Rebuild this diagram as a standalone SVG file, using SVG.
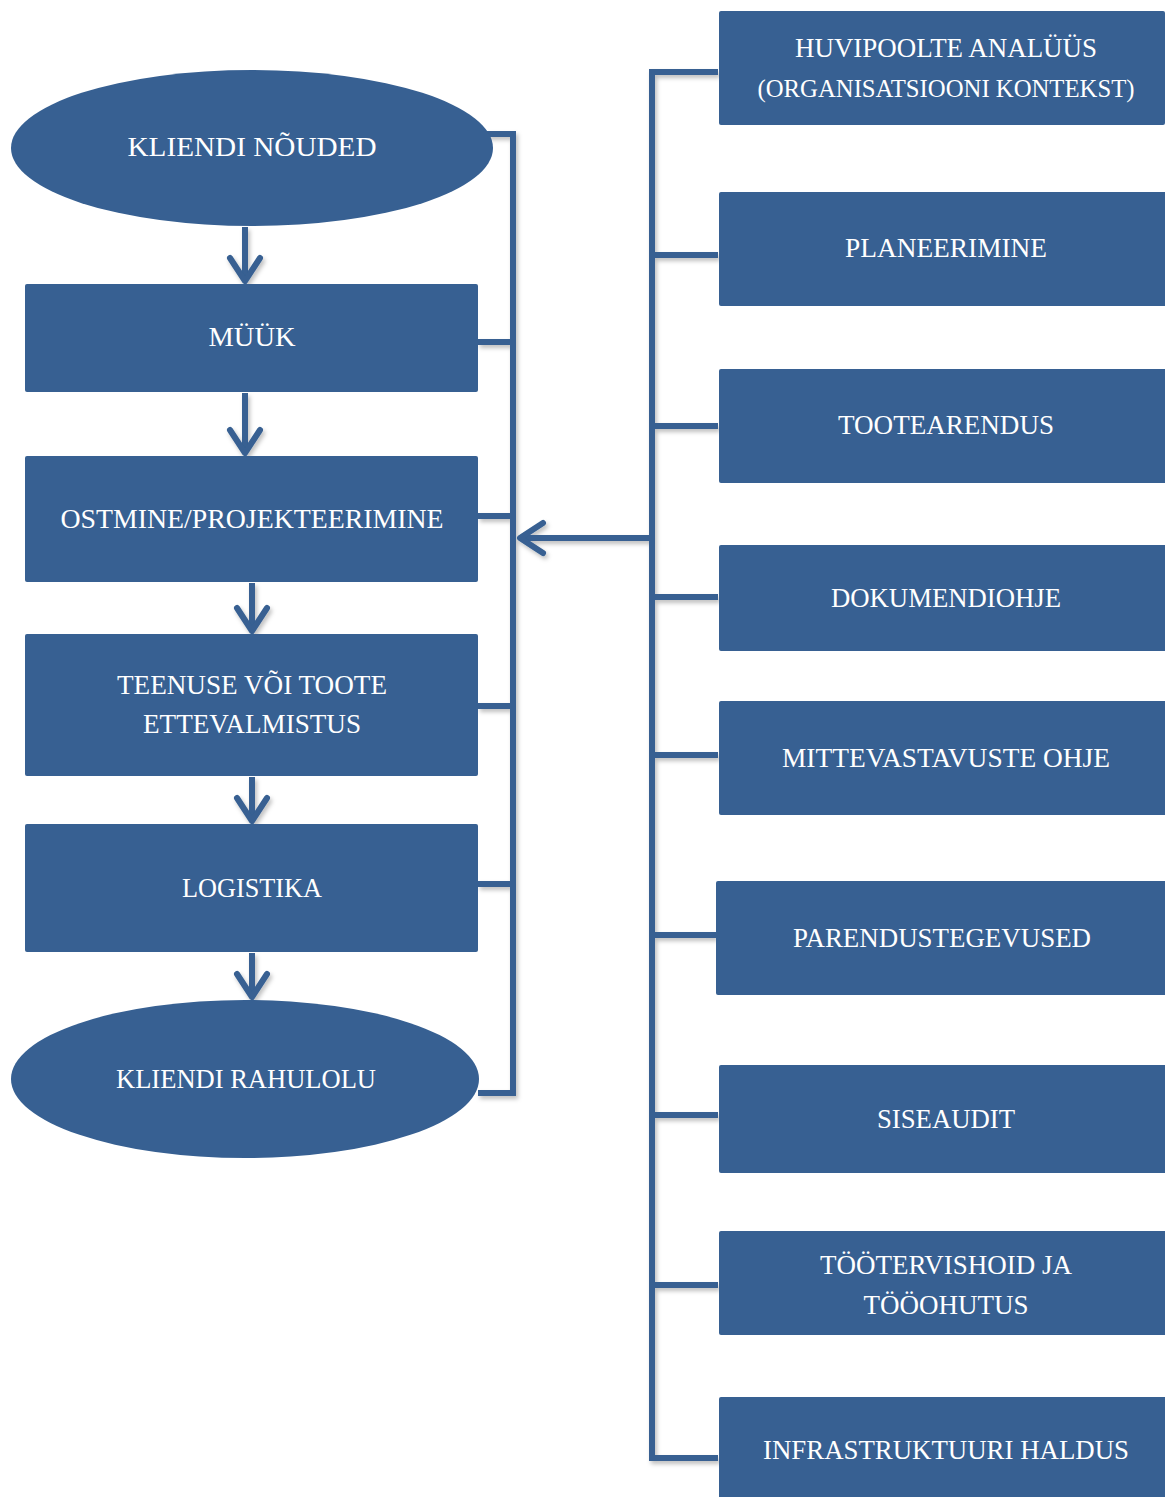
<svg xmlns="http://www.w3.org/2000/svg" width="1165" height="1497" viewBox="0 0 1165 1497">
<style>
.node{fill:#376092;}
.lbl{font-family:"Liberation Serif","Times New Roman",serif;font-size:28px;fill:#ffffff;text-anchor:middle;}
.con{fill:none;stroke:#376092;stroke-width:6;stroke-linejoin:miter;}
.arr{fill:none;stroke:#376092;stroke-width:6;stroke-linecap:round;stroke-linejoin:round;}
</style>
<defs>
<filter id="sh" x="-20%" y="-20%" width="140%" height="140%">
<feDropShadow dx="2" dy="3" stdDeviation="2" flood-color="#000" flood-opacity="0.25"/>
</filter>
<marker id="chev" markerUnits="userSpaceOnUse" viewBox="-30 -20 40 40" markerWidth="40" markerHeight="40" refX="0" refY="0" orient="auto" overflow="visible">
<path d="M-23 -15 L0 0 L-23 15" class="arr"/>
</marker>
</defs>
<rect width="1165" height="1497" fill="#ffffff"/>

<g id="connectors" filter="url(#sh)">
<path class="con" d="M245 227 V281" marker-end="url(#chev)"/>
<path class="con" d="M245 393 V453" marker-end="url(#chev)"/>
<path class="con" d="M252 583 V631" marker-end="url(#chev)"/>
<path class="con" d="M252 777 V821" marker-end="url(#chev)"/>
<path class="con" d="M252 953 V997" marker-end="url(#chev)"/>
<path class="con" d="M487 134 H513 V1093 H478"/>
<path class="con" d="M478 342 H513"/>
<path class="con" d="M478 516 H513"/>
<path class="con" d="M478 706 H513"/>
<path class="con" d="M478 884 H513"/>
<path class="con" d="M650 538 H520" marker-end="url(#chev)"/>
<path class="con" d="M718 72 H652 V1458 H718"/>
<path class="con" d="M652 255 H718"/>
<path class="con" d="M652 426 H718"/>
<path class="con" d="M652 597 H718"/>
<path class="con" d="M652 755 H718"/>
<path class="con" d="M652 935 H716"/>
<path class="con" d="M652 1115 H718"/>
<path class="con" d="M652 1285 H718"/>
</g>

<g id="n-kliendi-noud"><ellipse class="node" cx="252" cy="148" rx="241" ry="78"/><text class="lbl" x="252" y="156" textLength="249" lengthAdjust="spacingAndGlyphs">KLIENDI NÕUDED</text></g>
<g id="n-muuk"><rect class="node" x="25" y="284" width="453" height="108" rx="2"/><text class="lbl" x="252" y="346" textLength="87" lengthAdjust="spacingAndGlyphs">MÜÜK</text></g>
<g id="n-ostmine"><rect class="node" x="25" y="456" width="453" height="126" rx="2"/><text class="lbl" x="252" y="528" textLength="383" lengthAdjust="spacingAndGlyphs">OSTMINE/PROJEKTEERIMINE</text></g>
<g id="n-teenuse"><rect class="node" x="25" y="634" width="453" height="142" rx="2"/><text class="lbl" x="252" y="694" textLength="270" lengthAdjust="spacingAndGlyphs">TEENUSE VÕI TOOTE</text><text class="lbl" x="252" y="733" textLength="218" lengthAdjust="spacingAndGlyphs">ETTEVALMISTUS</text></g>
<g id="n-logistika"><rect class="node" x="25" y="824" width="453" height="128" rx="2"/><text class="lbl" x="252" y="897" textLength="140" lengthAdjust="spacingAndGlyphs">LOGISTIKA</text></g>
<g id="n-rahulolu"><ellipse class="node" cx="245" cy="1079" rx="234" ry="79"/><text class="lbl" x="246" y="1088" textLength="260" lengthAdjust="spacingAndGlyphs">KLIENDI RAHULOLU</text></g>

<g id="n-huvipoolte"><rect class="node" x="719" y="11" width="446" height="114" rx="2"/><text class="lbl" x="946" y="57" textLength="302" lengthAdjust="spacingAndGlyphs">HUVIPOOLTE ANALÜÜS</text><text class="lbl" x="946" y="97" style="font-size:26px" textLength="377" lengthAdjust="spacingAndGlyphs">(ORGANISATSIOONI KONTEKST)</text></g>
<g id="n-planeerimine"><rect class="node" x="719" y="192" width="450" height="114" rx="2"/><text class="lbl" x="946" y="257" textLength="202" lengthAdjust="spacingAndGlyphs">PLANEERIMINE</text></g>
<g id="n-tootearendus"><rect class="node" x="719" y="369" width="450" height="114" rx="2"/><text class="lbl" x="946" y="434" textLength="216" lengthAdjust="spacingAndGlyphs">TOOTEARENDUS</text></g>
<g id="n-dokumendiohje"><rect class="node" x="719" y="545" width="450" height="106" rx="2"/><text class="lbl" x="946" y="607" textLength="230" lengthAdjust="spacingAndGlyphs">DOKUMENDIOHJE</text></g>
<g id="n-mittevastavuste"><rect class="node" x="719" y="701" width="450" height="114" rx="2"/><text class="lbl" x="946" y="767" textLength="328" lengthAdjust="spacingAndGlyphs">MITTEVASTAVUSTE OHJE</text></g>
<g id="n-parendus"><rect class="node" x="716" y="881" width="453" height="114" rx="2"/><text class="lbl" x="942" y="947" textLength="298" lengthAdjust="spacingAndGlyphs">PARENDUSTEGEVUSED</text></g>
<g id="n-siseaudit"><rect class="node" x="719" y="1065" width="450" height="108" rx="2"/><text class="lbl" x="946" y="1128" textLength="138" lengthAdjust="spacingAndGlyphs">SISEAUDIT</text></g>
<g id="n-tootervishoid"><rect class="node" x="719" y="1231" width="450" height="104" rx="2"/><text class="lbl" x="946" y="1274" textLength="252" lengthAdjust="spacingAndGlyphs">TÖÖTERVISHOID JA</text><text class="lbl" x="946" y="1314" textLength="165" lengthAdjust="spacingAndGlyphs">TÖÖOHUTUS</text></g>
<g id="n-infra"><rect class="node" x="719" y="1397" width="450" height="110" rx="2"/><text class="lbl" x="946" y="1459" textLength="366" lengthAdjust="spacingAndGlyphs">INFRASTRUKTUURI HALDUS</text></g>
</svg>
